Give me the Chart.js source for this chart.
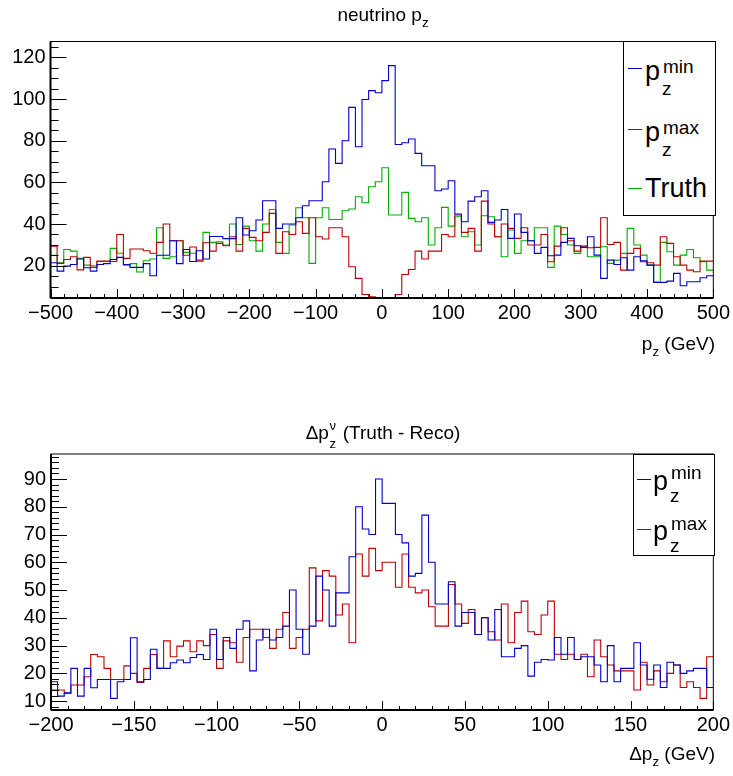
<!DOCTYPE html>
<html><head><meta charset="utf-8">
<script src="https://cdn.jsdelivr.net/npm/chart.js@4.4.1/dist/chart.umd.min.js"></script>
<style>
html,body{margin:0;padding:0;background:#fff;}
#wrap{position:relative;width:733px;height:776px;overflow:hidden;font-family:"Liberation Sans",Arial,Helvetica,sans-serif;color:#000;}
canvas{position:absolute;left:0;}
.t{position:absolute;white-space:nowrap;line-height:1;}
.sb{font-size:0.7em;position:relative;top:0.45em;}
.ss{display:inline-block;position:relative;width:0.45em;height:0;vertical-align:baseline;}
.ss .a{position:absolute;left:0.05em;top:-20px;font-size:13px;line-height:1;}
.ss .b{position:absolute;left:0.05em;top:-2px;font-size:13px;line-height:1;}
.box{position:absolute;border:1px solid #000;background:#fff;box-sizing:border-box;}
.mk{position:absolute;height:1px;}
</style></head><body>
<div id="wrap">
<canvas id="c1" width="733" height="400" style="top:0"></canvas>
<canvas id="c2" width="733" height="376" style="top:400px"></canvas>

<div class="t" style="left:233px;width:300px;text-align:center;top:5px;font-size:19px;">neutrino p<span class="sb">z</span></div>
<div class="t" style="right:18px;text-align:right;top:334px;font-size:19px;">p<span class="sb">z</span> (GeV)</div>
<div class="t" style="left:233px;width:300px;text-align:center;top:423px;font-size:19px;">&Delta;p<span class="ss"><span class="a">&nu;</span><span class="b">z</span></span> (Truth - Reco)</div>
<div class="t" style="right:18px;text-align:right;top:744px;font-size:19px;">&Delta;p<span class="sb">z</span> (GeV)</div>

<div class="box" style="left:623px;top:41px;width:92.5px;height:175px;"></div>
<div class="mk" style="left:628px;top:68px;width:14px;background:#0000cc"></div>
<div class="t" style="left:645px;top:58px;font-size:27px;">p</div>
<div class="t" style="left:663px;top:57px;font-size:19px;">min</div>
<div class="t" style="left:662px;top:79px;font-size:19px;">z</div>
<div class="mk" style="left:628px;top:129px;width:14px;background:#c00000"></div>
<div class="t" style="left:645px;top:119px;font-size:27px;">p</div>
<div class="t" style="left:663px;top:118px;font-size:19px;">max</div>
<div class="t" style="left:662px;top:140px;font-size:19px;">z</div>
<div class="mk" style="left:628px;top:188px;width:14px;background:#00b000"></div>
<div class="t" style="left:645px;top:175px;font-size:27px;">Truth</div>

<div class="box" style="left:633px;top:453.5px;width:82px;height:102px;"></div>
<div class="mk" style="left:637px;top:479px;width:14px;background:#0000cc"></div>
<div class="t" style="left:653px;top:468px;font-size:27px;">p</div>
<div class="t" style="left:671px;top:463px;font-size:19px;">min</div>
<div class="t" style="left:670px;top:486px;font-size:19px;">z</div>
<div class="mk" style="left:637px;top:529px;width:14px;background:#c00000"></div>
<div class="t" style="left:653px;top:518px;font-size:27px;">p</div>
<div class="t" style="left:671px;top:514px;font-size:19px;">max</div>
<div class="t" style="left:670px;top:536px;font-size:19px;">z</div>
</div>
<script>
// ---------- data ----------
const topXTicks = [-500,-400,-300,-200,-100,0,100,200,300,400,500];
const topYTicks = [20,40,60,80,100,120];
const bottomXTicks = [-200,-150,-100,-50,0,50,100,150,200];
const bottomYTicks = [10,20,30,40,50,60,70,80,90];

// neutrino pz, 100 bins of 10 GeV from -500 to 500
const pzMin = [21.4,17.4,19.8,20.6,23.2,19,17.4,20.6,21,23,
  24,20.6,19.2,19.2,21,15.2,25,25,32,21,
  27.8,22,27.2,23.2,34,34,33,33,43,34.7,
  36.8,41.9,51.2,51.2,37.9,40,40,43,48.8,51.2,
  51.2,60.3,76,69.1,80,96,77.1,99.8,104,103,
  108.8,116,78.2,79,80.8,73.9,68,68,56,56.8,
  60.8,44.8,41.1,51,53.1,56,40.8,41.9,47,33.1,
  44.8,36,32,25.9,28.8,24.8,25.1,31.2,33.1,29.6,
  28.8,33.9,25.1,13.9,22.7,20.6,23.8,17.9,24.3,22.4,
  20.3,12,12,12.6,16.3,10.4,12.3,12.3,14.2,15.2];
const pzMax = [29.4,21.1,23,24.3,18,24,19.2,22.2,22.2,22,
  35,23.5,28,28,27.2,26,31.2,40,32,32,
  25,29,22.7,31,27,30.7,29.6,33.9,27,37.9,
  33.6,32,36,45.1,25.9,36.3,35,41.1,35.5,43,
  33.9,32.8,38.2,38.2,33.9,19.5,13.9,6.2,5.1,4.6,
  4.6,4.6,6.2,15.8,18.2,27,23.2,27,27,35,
  33.9,44.3,36,37.9,27,51,40,33.9,40,37.9,
  33.1,38.2,29.9,29.9,35,21.9,29.4,38.2,32,27,
  29.1,28.6,28.8,43,30.2,31.2,17.9,25.9,28.3,21.9,
  21.4,20.3,33.9,30.7,24.3,20.3,17.9,17.1,22.2,22.2];
const pzTruth = [25,21.4,27.8,27,23.5,20.3,20,22,22,28.3,
  26,20.3,21,17,22.4,23.2,38.2,23.5,24.3,32,
  26.4,26,22,36,31.2,31.5,29.9,40,30.2,39,
  32,27,40,47,31.2,25.9,39.5,47.8,43,21.1,
  43,47.8,42.2,42.2,46.4,47.2,53.1,50.2,57.9,60.3,
  67,44.3,44.3,55.2,42.7,41.1,43,29.9,38.2,48,
  39,43.5,33.9,36.3,29.9,44,43.5,33.9,24.3,37.1,
  25.9,32,32,38.2,38.2,19.2,39,35,29.9,25.9,
  29.6,24.3,24.3,29.1,21.1,22.7,25.9,37.9,29.9,25.1,
  20.3,12,31.2,26.7,20.3,25.1,27.8,23.8,21.9,17.9];

// delta pz, 100 bins of 4 GeV from -200 to 200
const dpzMin = [17,11.8,13,21.8,11.8,21.8,14.8,17.8,17.8,11,
  17,17.8,32.8,17,17.8,28.7,21.8,21.8,23.8,24.8,
  23.8,25.7,26.8,25,35.9,25,32.9,29,35.9,38.9,
  20.9,32,35.9,32,32.9,37,50,35.9,26.9,37,
  55,50,37,49,49,62,80,72,70,90,
  81.2,81.2,70,67,55,56,77,60,45,45,
  53,37,41.9,41.9,34,40,32,43,26,26,
  29,30,19,24,25,24.8,32.9,26.9,32.9,25,
  26,26,23,17,30,17,21.8,21.8,31,23,
  17.9,23,14.9,24,23,20,20.9,21.8,21.8,14.9];
const dpzMax = [14,14,12.8,15.8,15.8,18.8,26.8,26,21.8,17.8,
  17.8,22.7,20,16.7,21.8,26.8,21.8,31.7,26,29.8,
  31.7,27.8,31.7,30,34,21.8,31.7,31,24,32.9,
  35.9,35.9,32.9,29,35.9,41.9,29,32.9,35.9,58,
  38.9,57,55,41,45,31,63,55,65,57,
  60,60,51,63,51,49,50,44,37,37,
  52,45,38,43,34,40,35,32,45,31,
  41.9,46,35,34,41,46,26.9,25,26.9,25,
  26.9,18.8,32,26,23,20.9,20.9,20.9,14,24,
  15.8,20.9,17,20,23,14.9,17,14.9,11,26];

const topEdges = Array.from({length:101},(_,i)=>-500+10*i);
const bottomEdges = Array.from({length:101},(_,i)=>-200+4*i);

// ---------- helpers ----------
const FONT = '"Liberation Sans", Arial, Helvetica, sans-serif';
function hist(edges, vals){
  const pts = vals.map((v,i)=>({x:edges[i], y:v}));
  pts.push({x:edges[edges.length-1], y:vals[vals.length-1]});
  return pts;
}
function ds(label, edges, vals, color){
  return {label, data: hist(edges, vals), borderColor: color, borderWidth: 1.1,
    pointRadius: 0, stepped: 'before', fill: false, tension: 0};
}
function range(a,b,s){ const r=[]; for(let v=a; v<=b+1e-9; v+=s) r.push(+v.toFixed(6)); return r; }
const fmt = v => v < 0 ? '\u2212' + Math.abs(v) : String(v);

const rootFrame = {
  id: 'rootFrame',
  afterDatasetsDraw(chart, args, o){
    const {ctx, chartArea: a} = chart;
    const x = chart.scales.x, y = chart.scales.y;
    ctx.save();
    ctx.strokeStyle = '#000';
    ctx.lineWidth = 1;
    ctx.strokeRect(a.left, a.top, a.right - a.left, a.bottom - a.top);
    ctx.beginPath();
    const xb = a.bottom;
    for (const v of o.xMinor){ const p = Math.round(x.getPixelForValue(v))+0.5; ctx.moveTo(p, xb); ctx.lineTo(p, xb - o.xMinLen); }
    for (const v of o.xMajor){ const p = Math.round(x.getPixelForValue(v))+0.5; ctx.moveTo(p, xb); ctx.lineTo(p, xb - o.xMajLen); }
    for (const v of o.yMinor){ const p = Math.round(y.getPixelForValue(v))+0.5; ctx.moveTo(a.left, p); ctx.lineTo(a.left + o.yMinLen, p); }
    for (const v of o.yMajor){ const p = Math.round(y.getPixelForValue(v))+0.5; ctx.moveTo(a.left, p); ctx.lineTo(a.left + o.yMajLen, p); }
    ctx.stroke();
    ctx.lineWidth = 2;
    ctx.beginPath();
    ctx.moveTo(a.left, a.bottom); ctx.lineTo(a.right, a.bottom);
    ctx.moveTo(a.left, a.top); ctx.lineTo(a.left, a.bottom);
    ctx.stroke();
    ctx.restore();
  }
};

function makeChart(id, cfg){
  return new Chart(document.getElementById(id), {
    type: 'line',
    data: { datasets: cfg.datasets },
    plugins: [rootFrame],
    options: {
      responsive: false, animation: false, devicePixelRatio: 1,
      layout: { padding: { left: 0, right: 733 - cfg.right, top: cfg.top, bottom: 0 } },
      plugins: { legend: {display:false}, tooltip: {enabled:false}, title:{display:false},
        rootFrame: cfg.frame },
      scales: {
        x: { type: 'linear', min: cfg.xmin, max: cfg.xmax,
          afterBuildTicks: s => { s.ticks = cfg.xTicks.map(v => ({value: v})); },
          afterFit: s => { s.height = cfg.xh; },
          grid: {display:false, drawTicks:false}, border: {display:false},
          ticks: { autoSkip:false, maxRotation:0, padding: 3, color:'#000',
            font: {family: FONT, size: 20}, callback: v => fmt(v) } },
        y: { type: 'linear', min: cfg.ymin, max: cfg.ymax,
          afterBuildTicks: s => { s.ticks = cfg.yTicks.map(v => ({value: v})); },
          afterFit: s => { s.width = cfg.left; },
          grid: {display:false, drawTicks:false}, border: {display:false},
          ticks: { padding: 5, color:'#000', font: {family: FONT, size: 20},
            callback: v => fmt(v) } }
      }
    }
  });
}

makeChart('c1', {
  datasets: [ ds('pz min', topEdges, pzMin, '#0000cc'),
              ds('pz max', topEdges, pzMax, '#c00000'),
              ds('Truth', topEdges, pzTruth, '#00b000') ],
  left: 50.5, right: 715, top: 41.5, xh: 400 - 298,
  xmin: -500, xmax: 500, ymin: 4.5, ymax: 127.6,
  xTicks: topXTicks, yTicks: topYTicks,
  frame: { xMajor: topXTicks, xMinor: range(-500,500,20), xMajLen: 9, xMinLen: 4,
           yMajor: topYTicks, yMinor: range(5,125,5), yMajLen: 16, yMinLen: 8 }
});

makeChart('c2', {
  datasets: [ ds('pz min', bottomEdges, dpzMin, '#0000cc'),
              ds('pz max', bottomEdges, dpzMax, '#c00000') ],
  left: 51, right: 715, top: 54, xh: 376 - 310,
  xmin: -200, xmax: 200, ymin: 6.8, ymax: 99,
  xTicks: bottomXTicks, yTicks: bottomYTicks,
  frame: { xMajor: bottomXTicks, xMinor: range(-200,200,10), xMajLen: 9, xMinLen: 4,
           yMajor: bottomYTicks, yMinor: range(8,98,2), yMajLen: 16, yMinLen: 8 }
});
</script>
</body></html>
